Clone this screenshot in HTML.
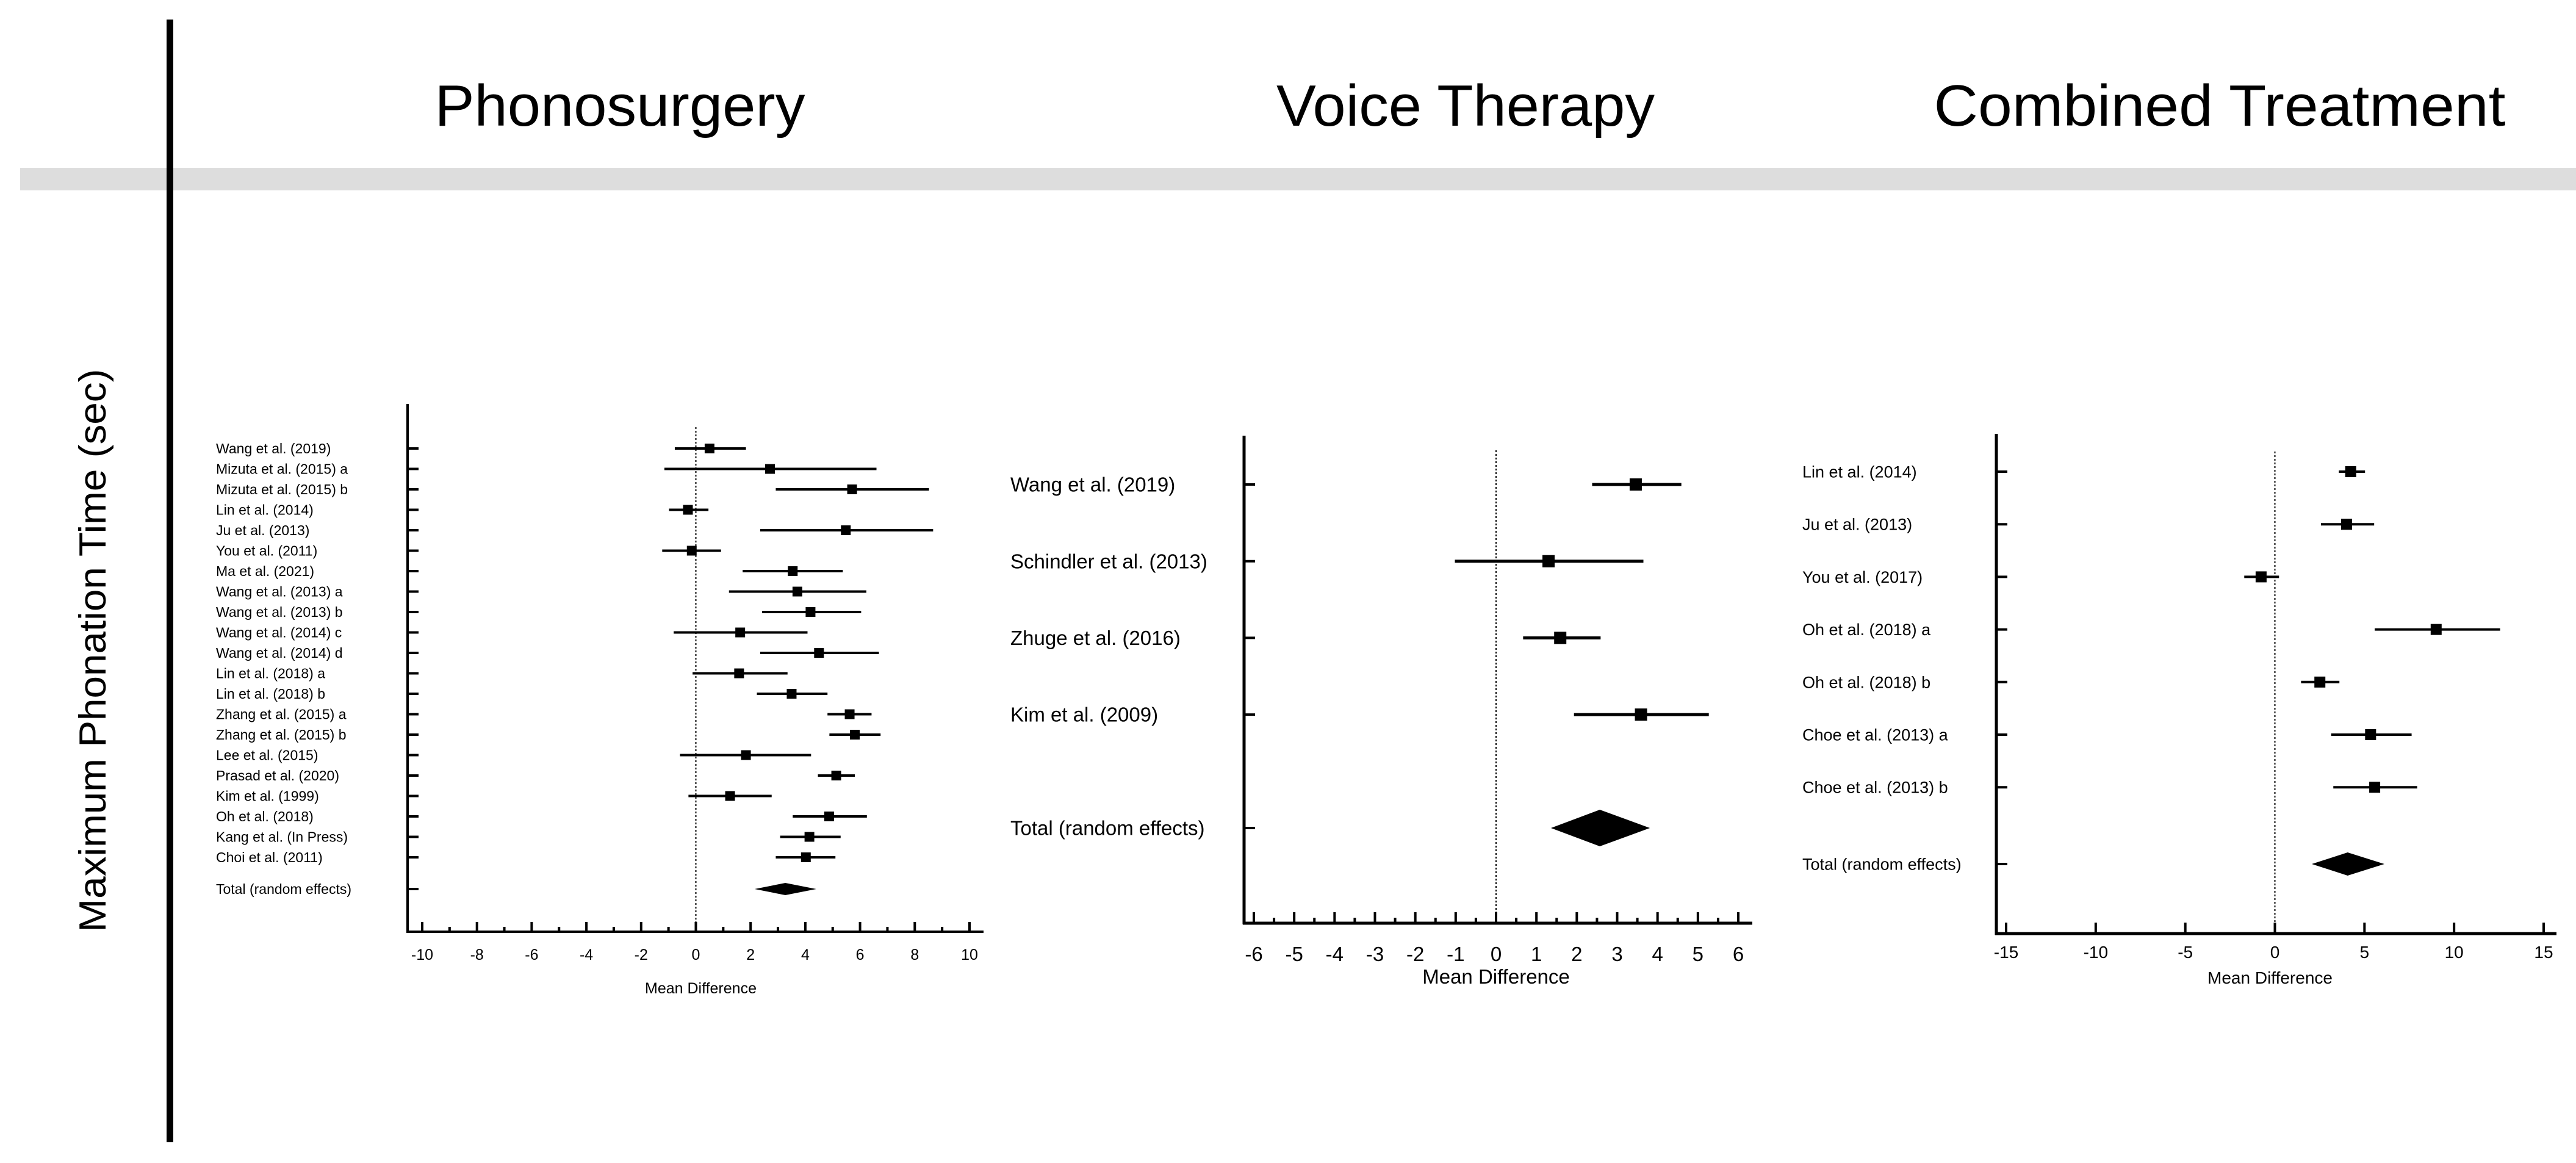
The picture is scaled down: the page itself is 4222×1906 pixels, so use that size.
<!DOCTYPE html>
<html><head><meta charset="utf-8">
<style>html,body{margin:0;padding:0;background:#fff;}svg{display:block;}</style>
</head><body>
<svg id="fig" width="4222" height="1906" viewBox="0 0 4222 1906" xmlns="http://www.w3.org/2000/svg" font-family="Liberation Sans, sans-serif">
  <rect x="0" y="0" width="4222" height="1906" fill="#fff"/>
  <rect x="33" y="275" width="4189" height="37" fill="#dddddd"/>
  <rect x="273" y="32" width="11" height="1840" fill="#000"/>
  <text x="1016" y="206" font-size="96" text-anchor="middle" textLength="607" lengthAdjust="spacingAndGlyphs">Phonosurgery</text>
  <text x="2402" y="206" font-size="96" text-anchor="middle" textLength="620" lengthAdjust="spacingAndGlyphs">Voice Therapy</text>
  <text x="3638" y="206" font-size="96" text-anchor="middle" textLength="937" lengthAdjust="spacingAndGlyphs">Combined Treatment</text>
  <text transform="translate(173,1066) rotate(-90)" font-size="62" text-anchor="middle" textLength="923" lengthAdjust="spacingAndGlyphs">Maximum Phonation Time (sec)</text>
  <g id="p1"></g>
  <g id="p2"></g>
  <g id="p3"></g>
</svg>
<script>
// Phonosurgery data
const p1Studies = ["Wang et al. (2019)","Mizuta et al. (2015) a","Mizuta et al. (2015) b","Lin et al. (2014)","Ju et al. (2013)","You et al. (2011)","Ma et al. (2021)","Wang et al. (2013) a","Wang et al. (2013) b","Wang et al. (2014) c","Wang et al. (2014) d","Lin et al. (2018) a","Lin et al. (2018) b","Zhang et al. (2015) a","Zhang et al. (2015) b","Lee et al. (2015)","Prasad et al. (2020)","Kim et al. (1999)","Oh et al. (2018)","Kang et al. (In Press)","Choi et al. (2011)"];
const p1Est = [0.5,2.71,5.71,-0.29,5.48,-0.15,3.54,3.71,4.19,1.62,4.5,1.58,3.5,5.62,5.81,1.83,5.13,1.25,4.87,4.15,4.02];
const p1Low = [-0.77,-1.15,2.92,-0.98,2.35,-1.23,1.71,1.21,2.42,-0.81,2.35,-0.12,2.23,4.81,4.88,-0.58,4.46,-0.27,3.54,3.08,2.92];
const p1High = [1.83,6.6,8.52,0.46,8.67,0.92,5.37,6.23,6.04,4.08,6.69,3.35,4.81,6.42,6.75,4.21,5.81,2.77,6.25,5.29,5.1];
const p1Total = [3.27,2.15,4.4];
const p1Ticks = [-10,-8,-6,-4,-2,0,2,4,6,8,10];
// Voice therapy data
const p2Studies = ["Wang et al. (2019)","Schindler et al. (2013)","Zhuge et al. (2016)","Kim et al. (2009)"];
const p2Est = [3.46,1.3,1.59,3.59];
const p2Low = [2.38,-1.02,0.67,1.93];
const p2High = [4.59,3.65,2.59,5.27];
const p2Total = [2.57,1.36,3.81];
const p2Ticks = [-6,-5,-4,-3,-2,-1,0,1,2,3,4,5,6];
// Combined treatment data
const p3Studies = ["Lin et al. (2014)","Ju et al. (2013)","You et al. (2017)","Oh et al. (2018) a","Oh et al. (2018) b","Choe et al. (2013) a","Choe et al. (2013) b"];
const p3Est = [4.23,4.0,-0.77,9.0,2.51,5.34,5.57];
const p3Low = [3.57,2.57,-1.71,5.57,1.46,3.14,3.26];
const p3High = [5.03,5.54,0.23,12.57,3.6,7.63,7.94];
const p3Total = [4.06,2.06,6.11];
const p3Ticks = [-15,-10,-5,0,5,10,15];

const NS = "http://www.w3.org/2000/svg";
function mk(parent, tag, attrs, text){
  const e = document.createElementNS(NS, tag);
  for (const k in attrs) e.setAttribute(k, attrs[k]);
  if (text !== undefined) e.textContent = text;
  parent.appendChild(e);
  return e;
}

function panel(g, cfg, studies, est, low, high, total, ticks){
  const xs = v => cfg.x0 + (v - cfg.vmin) / (cfg.vmax - cfg.vmin) * (cfg.x1 - cfg.x0);
  const ys = i => cfg.yFirst + i * cfg.rowGap;
  let e = mk(g, 'line', {x1:cfg.ax, y1:cfg.top, x2:cfg.ax, y2:cfg.axY+2, stroke:'#000','stroke-width':cfg.axW});
  
  
  e = mk(g, 'line', {x1:cfg.ax-2, y1:cfg.axY, x2:cfg.right, y2:cfg.axY, stroke:'#000','stroke-width':cfg.axW});
  
  
  e = mk(g, 'line', {x1:xs(0), y1:cfg.zeroTop, x2:xs(0), y2:cfg.axY, stroke:'#000','stroke-width':2,'stroke-dasharray':'3,3'});
  
  
  ticks.forEach(t => {
    const x = xs(t);
    let tk = mk(g, 'line', {x1:x, y1:cfg.axY, x2:x, y2:cfg.axY - cfg.tickLen, stroke:'#000','stroke-width':cfg.tickW});
    
    
    let tl = mk(g, 'text', {x:x, y:cfg.tickLabelY, 'font-size':cfg.tickFont, 'text-anchor':'middle', 'font-family':cfg.font}, String(t));
    
    
  });
  if (cfg.minor) {
    for (let i = 0; i < ticks.length - 1; i++) {
      const x = xs((ticks[i] + ticks[i+1]) / 2);
      let mt = mk(g, 'line', {x1:x, y1:cfg.axY, x2:x, y2:cfg.axY - cfg.tickLen/2, stroke:'#000','stroke-width':cfg.tickW});
      
      
    }
  }
  let xt = mk(g, 'text', {x:xs(0) + cfg.titleDx, y:cfg.titleY, 'font-size':cfg.tickFont, 'text-anchor':'middle', 'font-family':cfg.font}, 'Mean Difference');
  
  
  studies.forEach((s, i) => {
    const y = ys(i);
    let rt = mk(g, 'line', {x1:cfg.ax, y1:y, x2:cfg.ax + cfg.rowTick, y2:y, stroke:'#000','stroke-width':cfg.tickW});
    
    
    let lb = mk(g, 'text', {x:cfg.labelX, y:y + cfg.labelFont*0.35, 'font-size':cfg.labelFont, 'font-family':cfg.font}, s);
    
    
    let ci = mk(g, 'line', {x1:xs(low[i]), y1:y, x2:xs(high[i]), y2:y, stroke:'#000','stroke-width':cfg.ciW});
    
    
    const m = cfg.marker;
    let sq = mk(g, 'rect', {x:xs(est[i]) - m/2, y:y - m/2, width:m, height:m, fill:'#000'});
    
    
  });
  const ty = cfg.totalY;
  let trt = mk(g, 'line', {x1:cfg.ax, y1:ty, x2:cfg.ax + cfg.rowTick, y2:ty, stroke:'#000','stroke-width':cfg.tickW});
  
  
  let tlb = mk(g, 'text', {x:cfg.labelX, y:ty + cfg.labelFont*0.35, 'font-size':cfg.labelFont, 'font-family':cfg.font}, 'Total (random effects)');
  
  
  const h = cfg.diamondH;
  let dm = mk(g, 'polygon', {points:`${xs(total[1])},${ty} ${xs(total[0])},${ty-h} ${xs(total[2])},${ty} ${xs(total[0])},${ty+h}`, fill:'#000'});
  
  
}

panel(document.getElementById('p1'), {
  x0:692, x1:1589, vmin:-10, vmax:10, ax:668, top:662, axY:1527, right:1612, axW:4,
  zeroTop:700, tickLen:16, tickW:4, minor:true, tickLabelY:1573, tickFont:25, titleY:1628, titleDx:8,
  yFirst:735, rowGap:33.5, rowTick:18, labelX:354, labelFont:23, ciW:4, marker:16,
  totalY:1457, diamondH:10, font:'Liberation Sans, sans-serif'
}, p1Studies, p1Est, p1Low, p1High, p1Total, p1Ticks);

panel(document.getElementById('p2'), {
  x0:2055, x1:2849, vmin:-6, vmax:6, ax:2039, top:714, axY:1513, right:2872, axW:5,
  zeroTop:738, tickLen:18, tickW:4, minor:true, tickLabelY:1575, tickFont:33, titleY:1612, titleDx:0,
  yFirst:794, rowGap:125.7, rowTick:18, labelX:1656, labelFont:33, ciW:5, marker:20,
  totalY:1357, diamondH:30, font:'Liberation Sans Narrow, Liberation Sans, sans-serif'
}, p2Studies, p2Est, p2Low, p2High, p2Total, p2Ticks);

panel(document.getElementById('p3'), {
  x0:3288, x1:4169, vmin:-15, vmax:15, ax:3272, top:711, axY:1530, right:4190, axW:5,
  zeroTop:740, tickLen:18, tickW:4, minor:false, tickLabelY:1570, tickFont:28, titleY:1612, titleDx:-8,
  yFirst:773, rowGap:86.2, rowTick:18, labelX:2954, labelFont:27, ciW:4, marker:18,
  totalY:1416, diamondH:19, font:'Liberation Sans Narrow, Liberation Sans, sans-serif'
}, p3Studies, p3Est, p3Low, p3High, p3Total, p3Ticks);
</script>
</body></html>
